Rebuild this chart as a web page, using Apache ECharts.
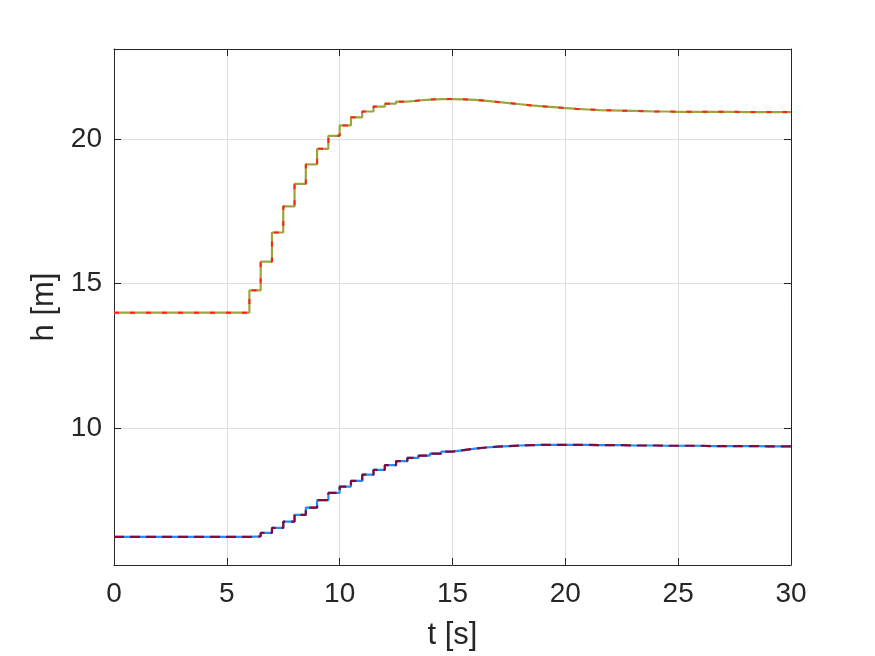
<!DOCTYPE html>
<html>
<head>
<meta charset="utf-8">
<script src="https://cdn.jsdelivr.net/npm/echarts@6/dist/echarts.min.js"></script>
<style>html,body{margin:0;padding:0;background:#fff}#c{width:875px;height:656px}</style>
</head>
<body>
<div id="c"></div>
<script>
// time samples [s] (zero-order hold, 0.5 s)
const timeS = [0,0.5,1,1.5,2,2.5,3,3.5,4,4.5,5,5.5,6,6.5,7,7.5,8,8.5,9,9.5,10,10.5,11,11.5,12,12.5,13,13.5,14,14.5,15,15.5,16,16.5,17,17.5,18,18.5,19,19.5,20,20.5,21,21.5,22,22.5,23,23.5,24,24.5,25,25.5,26,26.5,27,27.5,28,28.5,29,29.5,30];
// upper level h [m]
const hUpper = [14,14,14,14,14,14,14,14,14,14,14,14,14.77,15.76,16.77,17.67,18.45,19.12,19.66,20.11,20.47,20.75,20.95,21.12,21.22,21.29,21.33,21.36,21.38,21.38,21.37,21.35,21.32,21.28,21.24,21.20,21.16,21.13,21.10,21.07,21.04,21.02,21.00,20.99,20.98,20.97,20.96,20.95,20.95,20.94,20.94,20.94,20.94,20.94,20.94,20.93,20.93,20.93,20.93,20.93,20.93];
// lower level h [m]
const hLower = [6.25,6.25,6.25,6.25,6.25,6.25,6.25,6.25,6.25,6.25,6.25,6.25,6.27,6.39,6.56,6.78,7.01,7.26,7.52,7.77,7.99,8.19,8.40,8.57,8.73,8.87,8.98,9.06,9.13,9.20,9.25,9.30,9.34,9.37,9.39,9.41,9.42,9.43,9.43,9.43,9.43,9.43,9.42,9.42,9.42,9.41,9.41,9.41,9.40,9.40,9.40,9.40,9.39,9.39,9.39,9.39,9.39,9.38,9.38,9.38,9.38];
const xTicks = [0,5,10,15,20,25,30];
const yTicks = [10,15,20];

const pts = arr => timeS.map((t,i)=>[t,arr[i]]);
const txt = '#262626';
const font = 'Liberation Sans, Arial, Helvetica, sans-serif';
const chart = echarts.init(document.getElementById('c'), null, {renderer:'canvas'});
const baseX = {type:'value', min:0, max:30, interval:5,
  axisLine:{show:true, onZero:false, lineStyle:{color:txt, width:1}},
  axisTick:{show:true, inside:true, length:7, lineStyle:{color:txt}},
  splitLine:{show:false}};
const baseY = {type:'value', min:5.28, max:23.11,
  axisLine:{show:true, onZero:false, lineStyle:{color:txt, width:1}},
  axisTick:{show:true, inside:true, length:7, customValues:yTicks, lineStyle:{color:txt}},
  splitLine:{show:false}};
chart.setOption({
  animation:false,
  backgroundColor:'#fff',
  grid:{left:114, right:84, top:49, bottom:91, containLabel:false},
  xAxis:[
    Object.assign({}, baseX, {position:'bottom',
      name:'t [s]', nameLocation:'middle', nameGap:55,
      nameTextStyle:{color:txt, fontSize:31, fontFamily:font},
      axisLabel:{show:true, color:txt, fontSize:28, fontFamily:font, margin:15, customValues:xTicks},
      splitLine:{show:true, lineStyle:{color:'#dfdfdf', width:1}}}),
    Object.assign({}, baseX, {position:'top', axisLabel:{show:false}})
  ],
  yAxis:[
    Object.assign({}, baseY, {position:'left',
      name:'h [m]', nameLocation:'middle', nameGap:50,
      nameTextStyle:{color:txt, fontSize:31, fontFamily:font},
      axisLabel:{show:true, color:txt, fontSize:28, fontFamily:font, margin:12, customValues:yTicks},
      splitLine:{show:true, lineStyle:{color:'#dfdfdf', width:1}}}),
    Object.assign({}, baseY, {position:'right', axisLabel:{show:false}})
  ],
  series:[
    {type:'line', step:'end', data:pts(hUpper), showSymbol:false, symbol:'none',
     lineStyle:{color:'#a0a53a', width:2.2}, z:2},
    {type:'line', step:'end', data:pts(hUpper), showSymbol:false, symbol:'none',
     lineStyle:{color:'#ff1f1f', width:2, type:[5,11]}, z:3},
    {type:'line', step:'end', data:pts(hLower), showSymbol:false, symbol:'none',
     lineStyle:{color:'#1e8fff', width:2.2}, z:2},
    {type:'line', step:'end', data:pts(hLower), showSymbol:false, symbol:'none',
     lineStyle:{color:'#85093a', width:2.2, type:[10,6]}, z:3}
  ]
});
</script>
</body>
</html>
